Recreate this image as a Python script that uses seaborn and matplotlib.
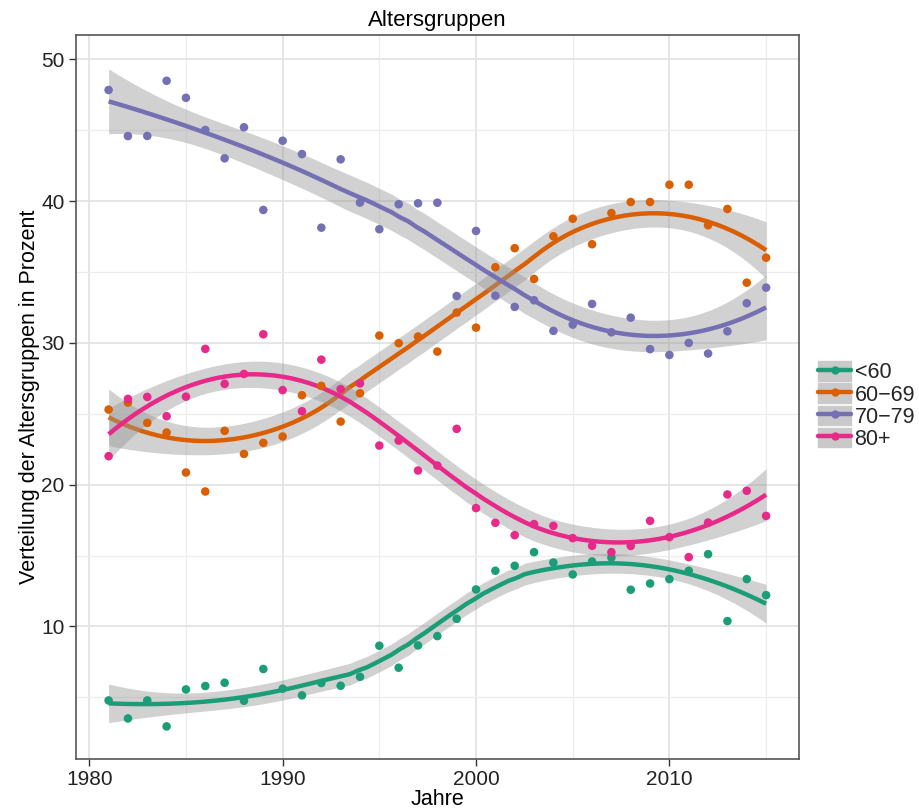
import numpy as np
import pandas as pd
import matplotlib
matplotlib.use("Agg")
import matplotlib.pyplot as plt
from matplotlib.patches import Rectangle
from matplotlib.lines import Line2D
from matplotlib.legend_handler import HandlerTuple
from matplotlib.ticker import MultipleLocator
import seaborn as sns

# ---- data -------------------------------------------------------------
years = list(range(1981, 2016))
groups = ["<60", "60\u221269", "70\u221279", "80+"]

under_60 = [4.78, 3.51, 4.78, 2.95, 5.56, 5.80, 6.03, 4.76, 7.00, 5.61,
            5.14, 6.01, 5.82, 6.45, 8.64, 7.09, 8.66, 9.32, 10.54, 12.61,
            13.93, 14.28, 15.24, 14.51, 13.67, 14.58, 14.86, 12.59, 13.03, 13.34,
            13.93, 15.10, 10.38, 13.34, 12.21]
age_60_69 = [25.30, 25.79, 24.36, 23.68, 20.86, 19.52, 23.80, 22.17, 22.95, 23.40,
             26.31, 26.97, 24.45, 26.45, 30.52, 29.98, 30.45, 29.39, 32.14, 31.08,
             35.34, 36.68, 34.51, 37.52, 38.76, 36.96, 39.16, 39.94, 39.94, 41.16,
             41.16, 38.30, 39.45, 34.25, 36.01]
age_70_79 = [47.84, 44.59, 44.60, 48.49, 47.29, 45.02, 43.02, 45.21, 39.38, 44.26,
             43.32, 38.13, 42.95, 39.90, 38.02, 39.78, 39.85, 39.89, 33.31, 37.90,
             33.33, 32.54, 33.01, 30.85, 31.29, 32.75, 30.75, 31.78, 29.56, 29.15,
             30.00, 29.25, 30.82, 32.80, 33.90]
age_80_plus = [22.01, 26.05, 26.19, 24.83, 26.21, 29.58, 27.11, 27.81, 30.61, 26.67,
               25.18, 28.82, 26.74, 27.14, 22.76, 23.11, 21.00, 21.35, 23.94, 18.35,
               17.31, 16.44, 17.22, 17.10, 16.23, 15.69, 15.24, 15.68, 17.45, 16.30,
               14.89, 17.33, 19.31, 19.57, 17.80]

colors = ["#1B9E77", "#D95F02", "#7570B3", "#E7298A"]

df = pd.DataFrame({
    "Jahr": years * 4,
    "Anteil": under_60 + age_60_69 + age_70_79 + age_80_plus,
    "Gruppe": np.repeat(groups, len(years)),
})


# ---- local quadratic regression (loess, span 0.75) with 95% band --------
def loess_fit(x, y, x_new, span=0.75):
    x = np.asarray(x, float)
    y = np.asarray(y, float)
    n = len(x)
    q = int(np.floor(n * span))

    def operator_row(x0):
        d = np.abs(x - x0)
        h = np.sort(d)[q - 1]
        u = np.clip(d / h, 0, 1)
        w = (1 - u ** 3) ** 3
        X = np.column_stack([np.ones(n), x - x0, (x - x0) ** 2])
        XtW = X.T * w
        A = np.linalg.solve(XtW @ X, XtW)
        return A[0]

    L = np.array([operator_row(v) for v in x])
    R = np.eye(n) - L
    RtR = R.T @ R
    delta1 = np.trace(RtR)
    delta2 = np.trace(RtR @ RtR)
    rss = np.sum((y - L @ y) ** 2)
    sigma = np.sqrt(rss / delta1)
    dof = delta1 ** 2 / delta2
    z = 1.959964
    t = z + (z ** 3 + z) / (4 * dof) + (5 * z ** 5 + 16 * z ** 3 + 3 * z) / (96 * dof ** 2)

    Ln = np.array([operator_row(v) for v in x_new])
    fit = Ln @ y
    se = sigma * np.sqrt(np.sum(Ln ** 2, axis=1))
    return fit, fit - t * se, fit + t * se


# ---- figure -----------------------------------------------------------
sns.set_theme(style="white")
plt.rcParams["font.family"] = ["Liberation Sans", "DejaVu Sans"]

fig = plt.figure(figsize=(9.19, 8.11), dpi=100)
ax = fig.add_axes([0.0824, 0.0641, 0.787, 0.8924])

x_grid = np.linspace(min(years), max(years), 80)
for g, col in zip(groups, colors):
    sub = df[df["Gruppe"] == g]
    fit, lo, hi = loess_fit(sub["Jahr"], sub["Anteil"], x_grid)
    ax.fill_between(x_grid, lo, hi, color="#999999", alpha=0.45, linewidth=0, zorder=2)
    ax.plot(x_grid, fit, color=col, linewidth=3.2, zorder=2, solid_capstyle="butt")

sns.scatterplot(data=df, x="Jahr", y="Anteil", hue="Gruppe", hue_order=groups,
                palette=colors, s=38, linewidth=0, legend=False, ax=ax, zorder=3)

ax.set_xlim(1979.3, 2016.7)
ax.set_ylim(0.65, 51.7)
ax.xaxis.set_major_locator(MultipleLocator(10))
ax.xaxis.set_minor_locator(MultipleLocator(5))
ax.yaxis.set_major_locator(MultipleLocator(10))
ax.yaxis.set_minor_locator(MultipleLocator(5))
ax.grid(which="major", color="#e3e3e3", linewidth=1.3, zorder=0)
ax.grid(which="minor", color="#ededed", linewidth=0.9, zorder=0)
ax.set_axisbelow(True)

for s in ax.spines.values():
    s.set_color("#555555")
    s.set_linewidth(1.2)

ax.tick_params(axis="both", which="major", length=5, width=1.0, color="#333333",
               labelsize=15, labelcolor="#222222", direction="out", pad=3)
ax.tick_params(axis="both", which="minor", length=0)
ax.tick_params(bottom=True, left=True)

ax.set_xlabel("Jahre", fontsize=15.5, color="black", labelpad=0)
ax.set_ylabel("Verteilung der Altersgruppen in Prozent", fontsize=15.5,
              color="black", labelpad=1)
ax.set_title("Altersgruppen", fontsize=16, color="black", pad=7)

# legend: grey key background with line and dot drawn over it
handles = []
for col in colors:
    bg = Rectangle((0, 0), 1, 1, facecolor="#c9c9c9", edgecolor="#c9c9c9",
                   linewidth=1.0)
    ln = Line2D([], [], color=col, linewidth=3.2, marker="o", markersize=6,
                markeredgewidth=0)
    handles.append((bg, ln))
fig.legend(handles, groups, handler_map={tuple: HandlerTuple(ndivide=1, pad=0)},
           loc="center left", bbox_to_anchor=(0.890, 0.5), frameon=False,
           fontsize=15.5, handlelength=1.55, handleheight=1.0, labelspacing=0.0,
           handletextpad=0.15, borderpad=0, borderaxespad=0)

fig.savefig("out.png", dpi=100)
